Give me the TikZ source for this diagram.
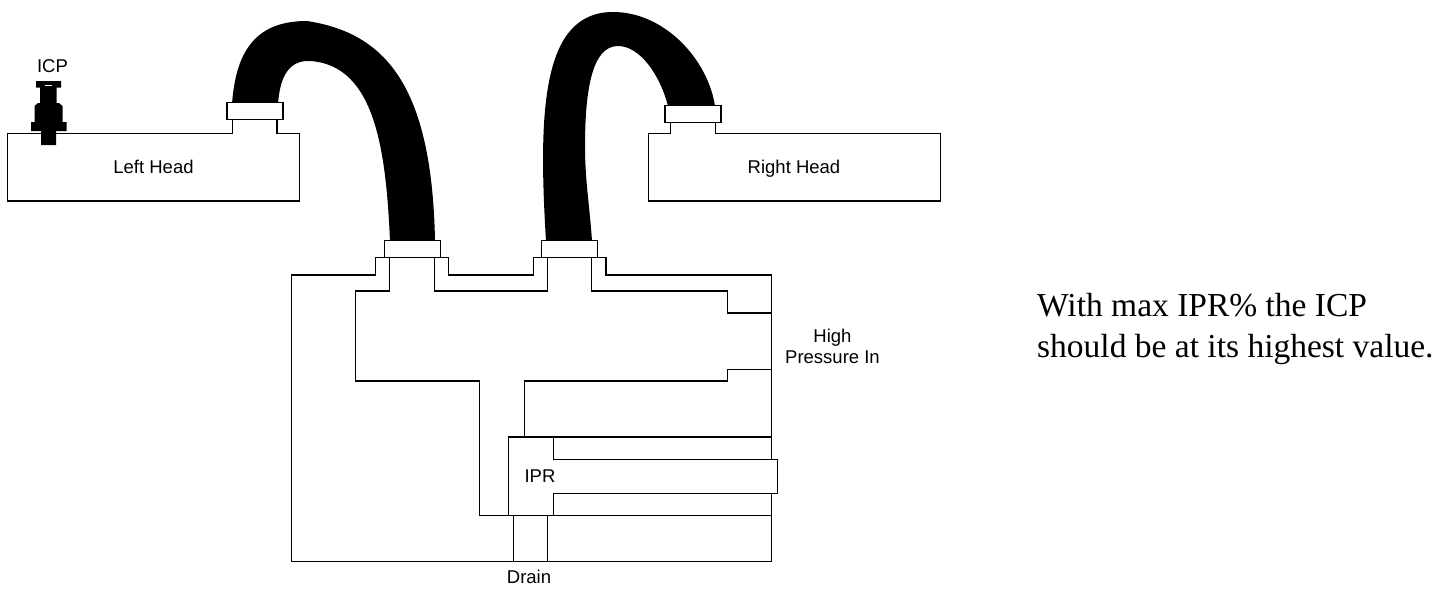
\documentclass[tikz,border=0pt]{standalone}
\usepackage{fontspec}
\setmainfont{Liberation Sans}
\newfontfamily\noteserif{Liberation Serif}
\tikzset{
  wall/.style={draw=black, line width=1.3pt, line join=miter, line cap=rect},
  hose/.style={fill=black, draw=none},
  sensor/.style={fill=black, draw=none},
  collar/.style={rectangle, draw=black, fill=white, line width=1.3pt, minimum width=56pt, minimum height=17pt, inner sep=0pt},
  lbl/.style={align=center, inner sep=0pt, font=\fontsize{18.5}{21}\selectfont},
  note/.style={align=left, inner sep=0pt, font=\noteserif\fontsize{33.5}{41}\selectfont},
}
\begin{document}
\begin{tikzpicture}[x=1pt, y=-1pt]
\useasboundingbox (0,0) rectangle (1456,598);
\fill[hose] (232,104) .. controls (236,48) and (258,21) .. (307,21) .. controls (385,33) and (432,85) .. (435,241)
  -- (390,241) .. controls (386,150) and (375,65) .. (310,61) .. controls (290,60) and (280,75) .. (278,104) -- cycle;
\fill[hose] (546,241) .. controls (538,110) and (542,12) .. (613,12) .. controls (665,12) and (708,60) .. (715,106)
  -- (668,106) .. controls (660,75) and (640,46) .. (618,46) .. controls (592,46) and (585,90) .. (585,147) .. controls (585,180) and (590,210) .. (592,241) -- cycle;
\draw[wall] (232.5,119) -- (232.5,133.5) -- (7.5,133.5) -- (7.5,201) -- (299.5,201) -- (299.5,133.5) -- (277,133.5) -- (277,119);
\draw[wall] (670.5,122) -- (670.5,133.5) -- (648.5,133.5) -- (648.5,201) -- (940.5,201) -- (940.5,133.5) -- (715.5,133.5) -- (715.5,122);
\draw[wall] (771.5,459.5) -- (771.5,275) -- (606,275) -- (606,257.5) -- (533.5,257.5) -- (533.5,275) -- (448.5,275) -- (448.5,257.5) -- (375.5,257.5) -- (375.5,275) -- (291.5,275) -- (291.5,561.5) -- (771.5,561.5) -- (771.5,493.5);
\draw[wall] (389.5,257.5) -- (389.5,291) -- (355.5,291) -- (355.5,381) -- (479.5,381) -- (479.5,515.5) -- (771.5,515.5);
\draw[wall] (434.5,257.5) -- (434.5,291) -- (547.5,291) -- (547.5,257.5);
\draw[wall] (591.5,257.5) -- (591.5,291) -- (727.5,291) -- (727.5,313) -- (771.5,313);
\draw[wall] (771.5,369.5) -- (727.5,369.5) -- (727.5,381) -- (524.5,381) -- (524.5,437);
\draw[wall] (508.5,515.5) -- (508.5,437) -- (771.5,437);
\draw[wall] (553.5,437) -- (553.5,459.5) -- (777.5,459.5) -- (777.5,493.5) -- (553.5,493.5) -- (553.5,515.5);
\draw[wall] (513.5,515.5) -- (513.5,561.5);
\draw[wall] (547.5,515.5) -- (547.5,561.5);
\node[collar] (leftcollar) at (255,111) {};
\node[collar] (rightcollar) at (693,114) {};
\node[collar] (lowleft) at (412.5,249) {};
\node[collar] (lowright) at (569.5,249) {};
\fill[sensor] (36,81) rectangle (61,87.5) (40,87.5) rectangle (56.5,105) (41,130) rectangle (56,145) (31,122) rectangle (66.5,131);
\fill[sensor] (38,103) -- (59,103) -- (62.5,106) -- (62.5,122) -- (34.5,122) -- (34.5,106) -- cycle;
\fill[white] (45,84.6) rectangle (51.5,85.6);
\node[lbl, anchor=base] (icp) at (52.5,72) {ICP};
\node[lbl, anchor=base] (lefthead) at (153.5,173) {Left Head};
\node[lbl, anchor=base] (righthead) at (794,173) {Right Head};
\node[lbl] (high) at (832.5,346.5) {High\\Pressure In};
\node[lbl, anchor=base] (ipr) at (540,482) {IPR};
\node[lbl, anchor=base] (drain) at (529,583) {Drain};
\node[note, anchor=north west] (maxnote) at (1037,293) {With max IPR\% the ICP\\should be at its highest value.};
\end{tikzpicture}
\end{document}
